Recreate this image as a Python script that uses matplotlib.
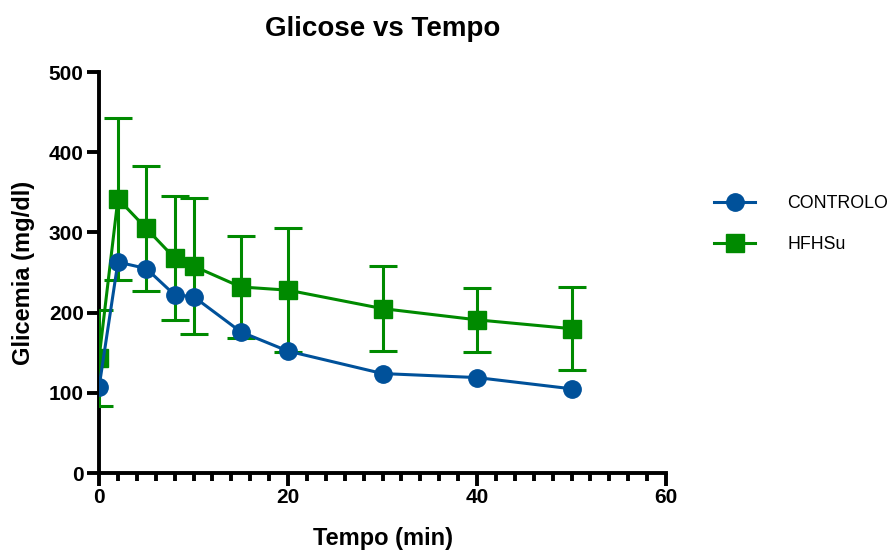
import numpy as np
import matplotlib.pyplot as plt
from matplotlib.lines import Line2D
from matplotlib.ticker import MultipleLocator

plt.rcParams['font.family'] = ['Liberation Sans', 'DejaVu Sans']

# tempos de colheita (min)
tempo = [0, 2, 5, 8, 10, 15, 20, 30, 40, 50]

# glicemia media (mg/dl)
controlo = [107, 263, 255, 222, 220, 176, 152, 124, 119, 105]
hfhsu = [143, 342, 305, 268, 258, 232, 228, 205, 191, 180]
hfhsu_err = [60, 101, 78, 77, 85, 64, 77, 53, 40, 52]

azul = '#00519a'
verde = '#008a00'

fig = plt.figure(figsize=(8.93, 5.52), dpi=100)
ax = fig.add_axes([0.1109, 0.1431, 0.635, 0.7264])

ax.errorbar(tempo, hfhsu, yerr=hfhsu_err, color=verde, marker='s', markersize=13,
            linewidth=2.2, elinewidth=2.2, capsize=10, capthick=2.2, zorder=3)
ax.plot(tempo, controlo, color=azul, marker='o', markersize=12.5,
        linewidth=2.2, zorder=4)

ax.set_xlim(0, 60)
ax.set_ylim(0, 500)
ax.xaxis.set_major_locator(MultipleLocator(20))
ax.xaxis.set_minor_locator(MultipleLocator(2))
ax.yaxis.set_major_locator(MultipleLocator(100))

for s in ['top', 'right']:
    ax.spines[s].set_visible(False)
for s in ['left', 'bottom']:
    ax.spines[s].set_linewidth(2.8)
ax.tick_params(which='major', length=9, width=2.8, labelsize=15, pad=2)
ax.tick_params(which='minor', length=6, width=2.8)
for lab in ax.get_xticklabels() + ax.get_yticklabels():
    lab.set_fontweight('bold')

ax.set_title('Glicose vs Tempo', fontsize=20, fontweight='bold', pad=26)
ax.set_xlabel('Tempo (min)', fontsize=17, fontweight='bold', labelpad=14)
ax.set_ylabel('Glicemia (mg/dl)', fontsize=17, fontweight='bold', labelpad=10)

# legenda so com linha e marcador
handles = [
    Line2D([], [], color=azul, marker='o', markersize=12.5, linewidth=2.2),
    Line2D([], [], color=verde, marker='s', markersize=13, linewidth=2.2),
]
ax.legend(handles, ['CONTROLO', 'HFHSu'], loc='center left',
          bbox_to_anchor=(1.057, 0.62), frameon=False, fontsize=12.8,
          handlelength=2.3, labelspacing=1.35, handletextpad=1.8)

fig.savefig('out.png', dpi=100)
